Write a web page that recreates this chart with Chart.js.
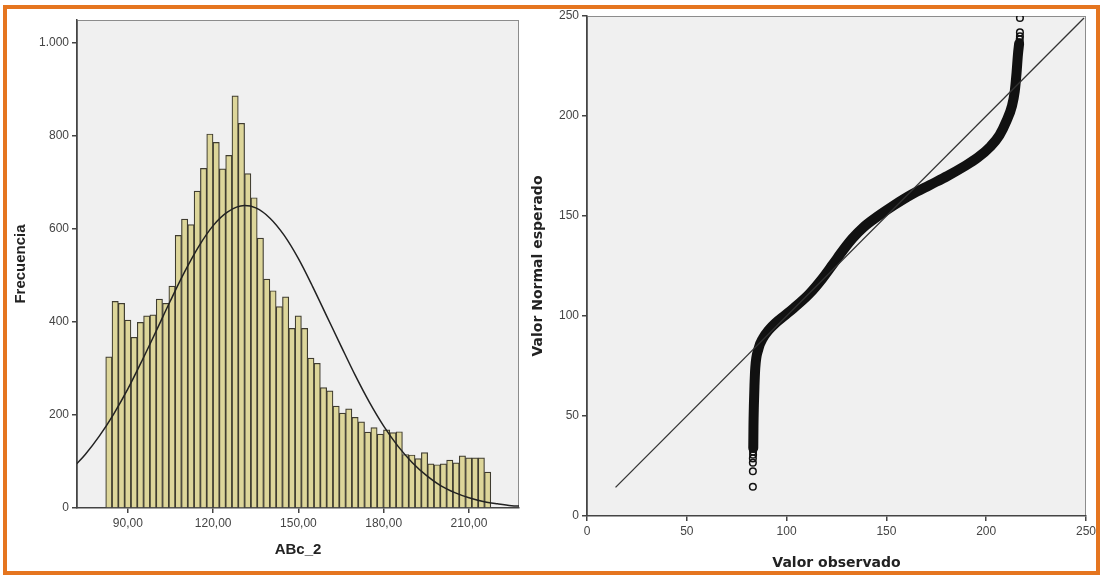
<!DOCTYPE html>
<html>
<head>
<meta charset="utf-8">
<script src="https://cdn.jsdelivr.net/npm/chart.js@4/dist/chart.umd.min.js"></script>
<style>
  body { margin: 0; background: #fff; }
  #page { position: relative; width: 1100px; height: 575px; overflow: hidden; }
  #histWrap { position: absolute; left: 0; top: 0; width: 530px; height: 575px; }
  #qqWrap { position: absolute; left: 525px; top: 0; width: 575px; height: 575px; }
  #frameBox {
    position: absolute; left: 3px; top: 5px; width: 1097px; height: 570px;
    box-sizing: border-box; border: 4px solid #e5751f; pointer-events: none;
  }
</style>
</head>
<body>
<div id="page">
  <div id="histWrap"><canvas id="hist"></canvas></div>
  <div id="qqWrap"><canvas id="qq"></canvas></div>
  <div id="frameBox"></div>
</div>
<script>
// histogram of ABc_2 (61 bins)
const binStart = 82.2;
const binWidth = 2.221;
const frequencies = [
  325, 444, 440, 404, 367, 399, 413, 415, 449, 440,
  477, 586, 621, 609, 681, 730, 804, 786, 729, 758,
  886, 827, 719, 667, 580, 492, 467, 433, 454, 386,
  413, 386, 322, 311, 259, 252, 219, 204, 213, 195,
  185, 163, 173, 159, 168, 162, 164, 115, 114, 106,
  119, 95, 93, 95, 103, 97, 112, 108, 108, 108, 77
];
// normal curve
const curveX = [72, 75, 80, 85, 90, 95, 100, 105, 110, 115, 120, 125, 131, 135, 140, 145, 150, 155, 160, 165, 170, 175, 180, 185, 190, 195, 200, 205, 210, 215, 220, 225, 228];
const curveY = [95, 115, 155, 202, 256, 317, 381, 446, 508, 563, 607, 636, 650, 645, 623, 586, 536, 476, 412, 348, 285, 227, 176, 133, 98, 70, 48, 33, 22, 14, 9, 5, 4];
const histXTicks = [90, 120, 150, 180, 210];
const histYTicks = [0, 200, 400, 600, 800, 1000];

// Q-Q plot
const qqBandObserved = [83.3, 83.4, 83.6, 83.9, 84.3, 85.9, 88.2, 90.9, 94.5, 99, 103.5, 111.5, 117.8, 123.2, 128.6, 133, 138.4, 145.6, 153.7, 162.7, 171.6, 180.6, 188.7, 195.8, 202.1, 206.6, 210.2, 212.9, 214.3, 215.2, 215.9, 216.5];
const qqBandExpected = [34, 45, 55, 65, 74, 83.6, 89, 92.8, 96.5, 100.2, 103.9, 111.2, 118.6, 125.9, 133.3, 138.8, 144.3, 149.8, 155.3, 160.8, 165.4, 170, 174.6, 179.2, 184.7, 190.3, 197.6, 205, 212.3, 221.5, 230.7, 236.2];
const qqTailObserved = [83.1, 83.1, 83.1, 83.1, 83.2, 83.2, 83.2, 216.9, 216.9, 216.9, 216.8, 216.7];
const qqTailExpected = [14.6, 22.4, 26.6, 28.8, 30.6, 32.2, 33.6, 249, 241.8, 239.9, 238.3, 236.9];
const refLine = [14.3, 249];
const qqTicks = [0, 50, 100, 150, 200, 250];

const tickFont = { family: 'Liberation Sans', size: 12 };
const tickColor = '#444';

const plotFrame = {
  id: 'plotFrame',
  beforeDraw(chart) {
    const { ctx, chartArea: a } = chart;
    ctx.save();
    ctx.fillStyle = '#f0f0f0';
    ctx.fillRect(a.left, a.top, a.width, a.height);
    ctx.strokeStyle = '#8c8c8c';
    ctx.lineWidth = 1;
    ctx.strokeRect(a.left + 0.5, a.top + 0.5, a.width - 1, a.height - 1);
    ctx.restore();
  }
};

function fixedTicks(list) {
  return scale => { scale.ticks = list.map(v => ({ value: v })); };
}

function axisBase(ticks) {
  return {
    type: 'linear',
    offset: false,
    afterBuildTicks: fixedTicks(ticks),
    grid: { offset: false, drawOnChartArea: false, drawTicks: true, tickLength: 5, color: '#444', lineWidth: 1.5 },
    border: { display: true, color: '#444', width: 1.5 },
    ticks: { font: tickFont, color: tickColor, padding: 3, maxRotation: 0, autoSkip: false }
  };
}

const hx = axisBase(histXTicks);
hx.min = 72.1; hx.max = 227.6;
hx.ticks.callback = v => v.toFixed(2).replace('.', ',');
hx.afterFit = s => { s.height = 67; };
hx.title = { display: true, text: 'ABc_2', color: '#222',
  font: { family: 'Liberation Sans', size: 15, weight: 'bold' }, padding: { top: 4, bottom: 16 } };

const hy = axisBase(histYTicks);
hy.min = 0; hy.max = 1049;
hy.ticks.callback = v => String(v).replace(/\B(?=(\d{3})+(?!\d))/g, '.');
hy.afterFit = s => { s.width = 77; };
hy.title = { display: true, text: 'Frecuencia', color: '#222',
  font: { family: 'Liberation Sans', size: 15, weight: 'bold' }, padding: { top: 12, bottom: 4 } };

new Chart(document.getElementById('hist'), {
  type: 'bar',
  data: {
    datasets: [
      {
        type: 'line',
        data: curveX.map((x, i) => ({ x: x, y: curveY[i] })),
        borderColor: '#222',
        borderWidth: 1.5,
        pointRadius: 0,
        cubicInterpolationMode: 'monotone',
        order: 0
      },
      {
        type: 'bar',
        data: frequencies.map((f, i) => ({ x: binStart + binWidth * (i + 0.5), y: f })),
        backgroundColor: '#ddd69a',
        borderColor: '#3f3c30',
        borderWidth: 1.2,
        barPercentage: 1,
        categoryPercentage: 1,
        order: 1
      }
    ]
  },
  options: {
    responsive: true,
    maintainAspectRatio: false,
    animation: false,
    layout: { padding: { top: 20, right: 11, left: 0, bottom: 0 } },
    plugins: { legend: { display: false }, tooltip: { enabled: false } },
    scales: { x: hx, y: hy }
  },
  plugins: [plotFrame]
});

const qx = axisBase(qqTicks);
qx.min = 0; qx.max = 250;
qx.afterFit = s => { s.height = 59; };
qx.title = { display: true, text: 'Valor observado', color: '#222',
  font: { family: 'DejaVu Sans', size: 14, weight: 'bold' }, padding: { top: 4, bottom: 3 } };

const qy = axisBase(qqTicks);
qy.min = 0; qy.max = 250;
qy.afterFit = s => { s.width = 62; };
qy.title = { display: true, text: 'Valor Normal esperado', color: '#222',
  font: { family: 'DejaVu Sans', size: 14, weight: 'bold' }, padding: { top: 5, bottom: 4 } };

new Chart(document.getElementById('qq'), {
  type: 'scatter',
  data: {
    datasets: [
      {
        data: refLine.map(v => ({ x: v, y: v })),
        showLine: true,
        borderColor: '#333',
        borderWidth: 1.3,
        pointRadius: 0
      },
      {
        data: qqBandObserved.map((x, i) => ({ x: x, y: qqBandExpected[i] })),
        showLine: true,
        borderColor: '#111',
        borderWidth: 10,
        borderCapStyle: 'round',
        cubicInterpolationMode: 'monotone',
        pointRadius: 0
      },
      {
        data: qqTailObserved.map((x, i) => ({ x: x, y: qqTailExpected[i] })),
        pointRadius: 3.3,
        pointBorderWidth: 1.5,
        pointBackgroundColor: 'rgba(0,0,0,0)',
        pointBorderColor: '#111'
      }
    ]
  },
  options: {
    responsive: true,
    maintainAspectRatio: false,
    animation: false,
    layout: { padding: { top: 16, right: 14, left: 0, bottom: 0 } },
    plugins: { legend: { display: false }, tooltip: { enabled: false } },
    scales: { x: qx, y: qy }
  },
  plugins: [plotFrame]
});
</script>
</body>
</html>
